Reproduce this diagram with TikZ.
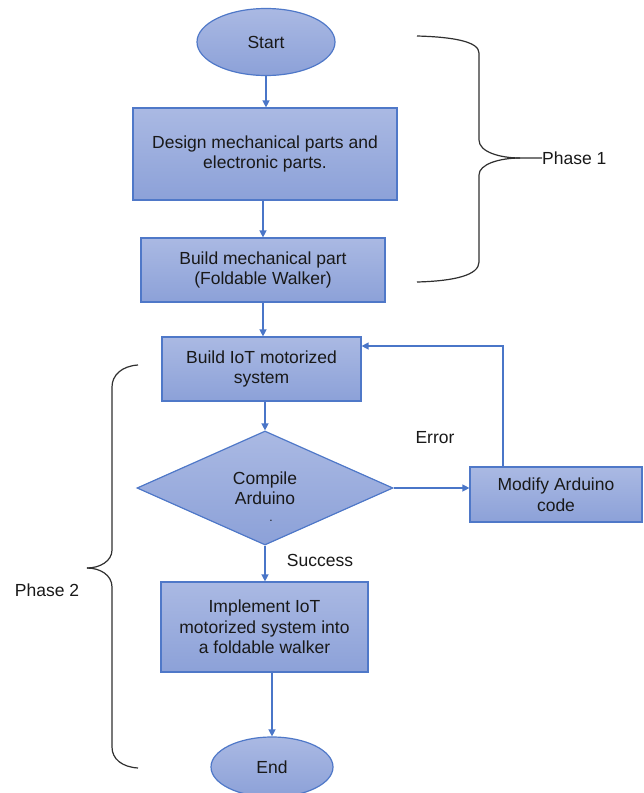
\documentclass[tikz,border=0pt]{standalone}
\usepackage{fontspec}
\setmainfont{Liberation Sans}
\usetikzlibrary{shapes.geometric,arrows.meta}
\definecolor{boxline}{HTML}{4F78C8}
\definecolor{boxtop}{HTML}{AAB9E3}
\definecolor{boxbot}{HTML}{8CA1D8}
\definecolor{arrowc}{HTML}{4A76C8}
\definecolor{bracec}{HTML}{303030}
\begin{document}
\begin{tikzpicture}[x=1pt,y=-1pt,
  every node/.style={font=\fontsize{17.5}{20.5}\selectfont, text=black!90},
  proc/.style={draw=boxline, line width=1.2pt, top color=boxtop, bottom color=boxbot, align=center, inner sep=0pt},
  term/.style={proc, ellipse},
  dec/.style={proc, diamond},
  flow/.style={draw=arrowc, line width=1.3pt, -{Triangle[length=7pt,width=7pt]}},
  brace/.style={draw=bracec, line width=1.2pt},
  lbl/.style={inner sep=0pt}]
\useasboundingbox (0,0) rectangle (643,793);
\fill[white] (0,0) rectangle (643,793);
% nodes
\node[term, minimum width=138pt, minimum height=67pt] (start) at (266,42) {Start};
\node[proc, minimum width=264pt, minimum height=92pt] (design) at (265,154) {Design mechanical parts and\\electronic parts.};
\node[proc, minimum width=244pt, minimum height=64pt] (mech) at (263,270) {Build mechanical part\\(Foldable Walker)};
\node[proc, minimum width=199pt, minimum height=64pt] (iot) at (261.5,369) {Build IoT motorized\\system};
\node[dec, minimum width=256pt, minimum height=114pt, aspect=2.25] (comp) at (265,488) {Compile\\Arduino};
\node[lbl, anchor=base, font=\fontsize{12}{12}\selectfont] (dot) at (271,521) {.};
\node[proc, minimum width=172pt, minimum height=55pt] (mod) at (556,494.5) {Modify Arduino\\code};
\node[proc, minimum width=207pt, minimum height=90pt] (impl) at (264.5,627) {Implement IoT\\motorized system into\\a foldable walker};
\node[term, minimum width=122pt, minimum height=60pt] (end) at (272,767) {End};
% labels
\node[lbl] (err) at (435,438) {Error};
\node[lbl] (succ) at (320,560) {Success};
\node[lbl, anchor=west] (p1) at (542,158) {Phase 1};
\node[lbl] (p2) at (47,590) {Phase 2};
% connectors
\coordinate (loopA) at (503,346);
\draw[flow] (start.south) -- (start.south |- design.north);
\draw[flow] (design.south -| mech.north) -- (mech.north);
\draw[flow] (mech.south) -- (mech.south |- iot.north);
\draw[flow] (iot.south -| comp.north) -- (comp.north);
\draw[flow] (comp.east) -- (comp.east -| mod.west);
\draw[flow] (mod.north -| loopA) -- (loopA) -- (loopA -| iot.east);
\draw[flow] (comp.south) -- (comp.south |- impl.north);
\draw[flow] (impl.south -| end.north) -- (end.north);
% phase 1 brace
\draw[brace] (417,36) .. controls (455,37) and (479,42) .. (479,53) -- (479,140)
  .. controls (479,152) and (500,158) .. (520,158) -- (p1.west);
\draw[brace] (520,158) .. controls (500,158) and (479,164) .. (479,175) -- (479,262)
  .. controls (479,275) and (455,281) .. (417,282);
% phase 2 brace
\draw[brace] (138,365) .. controls (122,366) and (112,375) .. (112,387) -- (112,550)
  .. controls (112,561) and (100,568) .. (87,568);
\draw[brace] (87,568) .. controls (100,568) and (112,575) .. (112,587) -- (112,747)
  .. controls (112,759) and (122,767) .. (138,768);
\end{tikzpicture}
\end{document}
